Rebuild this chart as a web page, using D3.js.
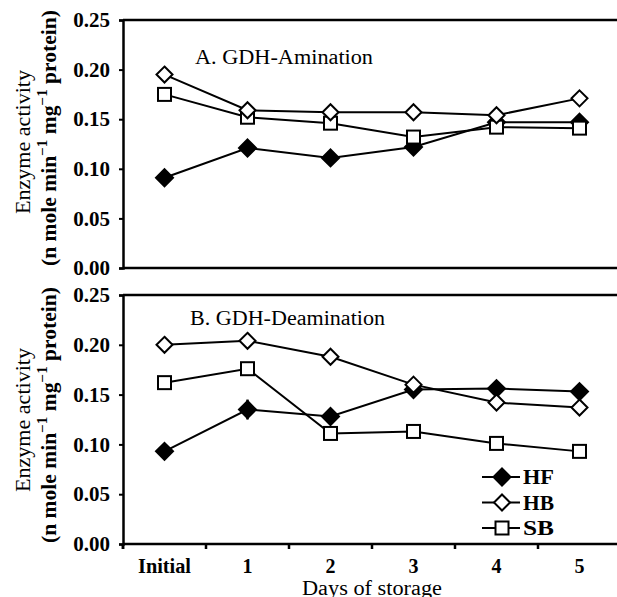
<!DOCTYPE html>
<html>
<head>
<meta charset="utf-8">
<script src="https://cdn.jsdelivr.net/npm/d3@7"></script>
<style>
  body { margin: 0; background: #fff; }
  svg { display: block; font-family: "Liberation Serif", "Times New Roman", serif; }
</style>
</head>
<body>
<div id="chart"></div>
<script>
const days = ["Initial", "1", "2", "3", "4", "5"];
const yTicks = [0, 0.05, 0.10, 0.15, 0.20, 0.25];
const seriesNames = ["HF", "HB", "SB"];

// A. GDH-Amination
const amHF = [0.091, 0.121, 0.111, 0.122, 0.147, 0.147];
const amHB = [0.195, 0.159, 0.157, 0.157, 0.154, 0.171];
const amSB = [0.175, 0.152, 0.146, 0.132, 0.142, 0.141];
const amErrHF = [0.004, 0.006, 0.005, 0.004, 0.004, 0.004];
const amErrHB = [0.003, 0.003, 0.003, 0.003, 0.003, 0.003];
const amErrSB = [0.003, 0.003, 0.003, 0.004, 0.003, 0.003];

// B. GDH-Deamination
const deHF = [0.093, 0.135, 0.128, 0.155, 0.156, 0.153];
const deHB = [0.200, 0.204, 0.188, 0.160, 0.142, 0.137];
const deSB = [0.162, 0.176, 0.111, 0.113, 0.101, 0.093];
const deErrHF = [0.006, 0.010, 0.004, 0.004, 0.003, 0.003];
const deErrHB = [0.003, 0.003, 0.003, 0.003, 0.003, 0.003];
const deErrSB = [0.006, 0.004, 0.003, 0.003, 0.003, 0.003];

const W = 617, H = 597;
const svg = d3.select("#chart").append("svg").attr("width", W).attr("height", H);

const x = d3.scaleBand().domain(days).range([123, 621]);

const bold = sel => sel.attr("font-weight", "bold").attr("font-family", "Liberation Serif").attr("fill", "#000");

const panels = [
  { title: "A. GDH-Amination", top: 20, bottom: 268, titleX: 195, titleY: 64, titleLen: 178,
    xTicks: false, cy1: 142, cy2: 138,
    series: [
      { name: "HF", v: amHF, e: amErrHF },
      { name: "SB", v: amSB, e: amErrSB },
      { name: "HB", v: amHB, e: amErrHB }
    ] },
  { title: "B. GDH-Deamination", top: 295, bottom: 544, titleX: 190, titleY: 325, titleLen: 195,
    xTicks: true, cy1: 420, cy2: 415,
    series: [
      { name: "HF", v: deHF, e: deErrHF },
      { name: "SB", v: deSB, e: deErrSB },
      { name: "HB", v: deHB, e: deErrHB }
    ] }
];

function drawMarker(g, name, cx, cy) {
  if (name === "SB") {
    g.append("rect").attr("x", cx - 6.5).attr("y", cy - 6.5).attr("width", 13).attr("height", 13)
      .attr("fill", "#fff").attr("stroke", "#000").attr("stroke-width", 2);
  } else {
    const r = name === "HF" ? 8.5 : 8;
    g.append("path")
      .attr("d", `M${cx},${cy - r}L${cx + r},${cy}L${cx},${cy + r}L${cx - r},${cy}Z`)
      .attr("fill", name === "HF" ? "#000" : "#fff")
      .attr("stroke", "#000").attr("stroke-width", 2);
  }
}

panels.forEach(p => {
  const y = d3.scaleLinear().domain([0, 0.25]).range([p.bottom, p.top]);
  const g = svg.append("g");

  // frame: top line
  g.append("line").attr("x1", 123).attr("x2", W).attr("y1", p.top).attr("y2", p.top)
    .attr("stroke", "#000").attr("stroke-width", 2.5);

  const yAxis = g.append("g").attr("transform", "translate(123,0)")
    .call(d3.axisLeft(y).tickValues(yTicks).tickFormat(d3.format(".2f")).tickSize(4).tickPadding(9));
  yAxis.select(".domain").attr("stroke-width", 2.5);
  yAxis.selectAll(".tick line").attr("stroke-width", 2);
  yAxis.selectAll("text").attr("font-size", 21).call(bold);

  const xAxis = g.append("g").attr("transform", `translate(0,${p.bottom})`)
    .call(d3.axisBottom(x).tickSize(p.xTicks ? 5 : 0).tickSizeOuter(0).tickFormat(""));
  xAxis.select(".domain").attr("d", `M123,0H${W}`).attr("stroke-width", 2.5);
  xAxis.selectAll(".tick line").attr("stroke-width", 2.5)
    .attr("transform", `translate(${-x.bandwidth() / 2},0)`);
  if (p.xTicks) {
    xAxis.append("line").attr("x1", 123).attr("x2", 123).attr("y1", 0).attr("y2", 5)
      .attr("stroke", "#000").attr("stroke-width", 2.5);
    days.forEach(d => {
      const t = xAxis.append("text").attr("x", x(d) + x.bandwidth() / 2).attr("y", 29)
        .attr("text-anchor", "middle").attr("font-size", 20).text(d).call(bold);
      if (d === "Initial") t.attr("textLength", 53).attr("lengthAdjust", "spacingAndGlyphs");
    });
  }

  // panel title
  g.append("text").attr("x", p.titleX).attr("y", p.titleY).attr("font-size", 20)
    .attr("textLength", p.titleLen).attr("lengthAdjust", "spacingAndGlyphs").text(p.title);

  // y title, two lines
  g.append("text").attr("transform", `translate(29.5,${p.cy1}) rotate(-90)`)
    .attr("text-anchor", "middle").attr("font-size", 20)
    .attr("textLength", 144).attr("lengthAdjust", "spacingAndGlyphs").text("Enzyme activity");
  const yt2 = g.append("text").attr("transform", `translate(55.5,${p.cy2}) rotate(-90)`)
    .attr("text-anchor", "middle").attr("font-size", 20)
    .attr("textLength", 256).attr("lengthAdjust", "spacingAndGlyphs").call(bold);
  yt2.append("tspan").text("(n mole min");
  yt2.append("tspan").attr("dy", -9).attr("font-size", 14).text("\u22121");
  yt2.append("tspan").attr("dy", 9).text(" mg");
  yt2.append("tspan").attr("dy", -9).attr("font-size", 14).text("\u22121");
  yt2.append("tspan").attr("dy", 9).text(" protein)");

  const line = d3.line().x((d, i) => x(days[i]) + x.bandwidth() / 2).y(d => y(d));

  p.series.forEach(s => {
    g.append("path").datum(s.v).attr("d", line).attr("fill", "none")
      .attr("stroke", "#000").attr("stroke-width", 2);
  });
  p.series.forEach(s => {
    s.v.forEach((v, i) => {
      const cx = x(days[i]) + x.bandwidth() / 2;
      g.append("line").attr("x1", cx).attr("x2", cx)
        .attr("y1", y(v - s.e[i])).attr("y2", y(v + s.e[i]))
        .attr("stroke", "#000").attr("stroke-width", 2.5);
    });
  });
  p.series.forEach(s => {
    s.v.forEach((v, i) => drawMarker(g, s.name, x(days[i]) + x.bandwidth() / 2, y(v)));
  });
});

// x title (cut by the bottom edge, as in the original figure)
svg.append("text").attr("x", 372).attr("y", 595).attr("text-anchor", "middle")
  .attr("font-size", 20).attr("textLength", 140).attr("lengthAdjust", "spacingAndGlyphs")
  .text("Days of storage");

// legend
const legY = d3.scalePoint().domain(seriesNames).range([477, 528]);
seriesNames.forEach(n => {
  const ly = legY(n);
  svg.append("line").attr("x1", 482).attr("x2", 520).attr("y1", ly).attr("y2", ly)
    .attr("stroke", "#000").attr("stroke-width", 2);
  drawMarker(svg, n, 502, ly);
  svg.append("text").attr("x", 523).attr("y", ly + 7).attr("font-size", 20)
    .attr("textLength", 31).attr("lengthAdjust", "spacingAndGlyphs").text(n).call(bold);
});
</script>
</body>
</html>
